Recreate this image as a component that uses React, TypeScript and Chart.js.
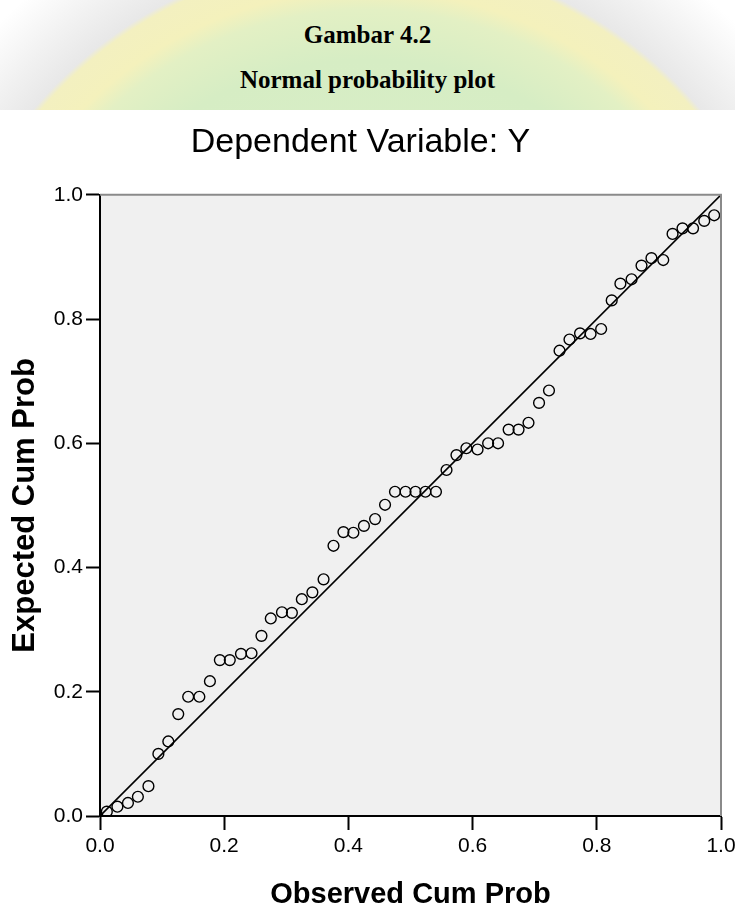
import React, { useEffect, useRef } from "react";
import { Chart, registerables } from "chart.js";

Chart.register(...registerables);

// Observed cumulative probability (x) and expected cumulative probability (y)
const observedCumProb = [
  0.011, 0.028, 0.045, 0.061, 0.078, 0.094, 0.11, 0.126, 0.142, 0.16,
  0.177, 0.193, 0.209, 0.227, 0.244, 0.26, 0.275, 0.293, 0.309, 0.325,
  0.342, 0.36, 0.376, 0.392, 0.408, 0.425, 0.443, 0.459,
  0.475, 0.492, 0.508, 0.524, 0.541,
  0.558, 0.574, 0.59, 0.608, 0.625, 0.641, 0.658, 0.674, 0.69, 0.707,
  0.723, 0.74, 0.756, 0.773, 0.79, 0.807, 0.824, 0.838, 0.856, 0.872,
  0.888, 0.907, 0.922, 0.938, 0.955, 0.973, 0.989,
];
const expectedCumProb = [
  0.007, 0.015, 0.021, 0.031, 0.048, 0.1, 0.12, 0.164, 0.192, 0.192,
  0.217, 0.251, 0.251, 0.261, 0.262, 0.29, 0.318, 0.328, 0.327, 0.349,
  0.36, 0.381, 0.435, 0.457, 0.456, 0.467, 0.478, 0.501,
  0.522, 0.522, 0.522, 0.522, 0.522,
  0.557, 0.581, 0.592, 0.59, 0.6, 0.6, 0.622, 0.622, 0.633, 0.665,
  0.685, 0.749, 0.767, 0.777, 0.776, 0.784, 0.83, 0.857, 0.864, 0.886,
  0.898, 0.895, 0.937, 0.946, 0.946, 0.958, 0.967,
];
const referenceLineX = [0, 1];
const referenceLineY = [0, 1];
const tickValues = [0, 0.2, 0.4, 0.6, 0.8, 1.0];

const headerLines = ["Gambar 4.2", "Normal probability plot"];
const chartTitle = "Dependent Variable: Y";
const xAxisTitle = "Observed Cum Prob";
const yAxisTitle = "Expected Cum Prob";

const SANS = "'Liberation Sans', Arial, sans-serif";

const plotFrame = {
  id: "plotFrame",
  beforeDraw(chart: any) {
    const { ctx, chartArea } = chart;
    ctx.save();
    ctx.fillStyle = "#f0f0f0";
    ctx.fillRect(chartArea.left, chartArea.top, chartArea.right - chartArea.left, chartArea.bottom - chartArea.top);
    ctx.restore();
  },
  afterDraw(chart: any) {
    const { ctx, chartArea } = chart;
    ctx.save();
    ctx.strokeStyle = "#8a8a8a";
    ctx.lineWidth = 2;
    ctx.beginPath();
    ctx.moveTo(chartArea.left, chartArea.top);
    ctx.lineTo(chartArea.right, chartArea.top);
    ctx.lineTo(chartArea.right, chartArea.bottom);
    ctx.stroke();
    ctx.restore();
  },
};

export default function App() {
  const canvasRef = useRef<HTMLCanvasElement | null>(null);

  useEffect(() => {
    if (!canvasRef.current) return;
    const points = observedCumProb.map((x, i) => ({ x, y: expectedCumProb[i] }));
    const line = referenceLineX.map((x, i) => ({ x, y: referenceLineY[i] }));

    const axisCommon = (title: string, titleSize: number, titlePadding: any, tickPadding: number) => ({
      type: "linear" as const,
      min: 0,
      max: 1,
      afterBuildTicks: (s: any) => {
        s.ticks = tickValues.map((v) => ({ value: v }));
      },
      ticks: {
        callback: (v: any) => Number(v).toFixed(1),
        color: "#000",
        padding: tickPadding,
        font: { family: SANS, size: 21 },
      },
      grid: {
        display: true,
        drawOnChartArea: false,
        drawTicks: true,
        tickLength: 14,
        tickColor: "#000",
        tickWidth: 2,
      },
      border: { display: true, color: "#000", width: 2 },
      title: {
        display: true,
        text: title,
        color: "#000",
        font: { family: SANS, size: titleSize, weight: "bold" as const },
        padding: titlePadding,
      },
    });

    const chart = new Chart(canvasRef.current, {
      data: {
        datasets: [
          {
            type: "line",
            data: line,
            borderColor: "#000",
            borderWidth: 1.6,
            pointRadius: 0,
            fill: false,
            order: 2,
          },
          {
            type: "scatter",
            data: points,
            pointStyle: "circle",
            pointRadius: 5.4,
            pointBorderWidth: 1.4,
            borderColor: "#000",
            backgroundColor: "rgba(0,0,0,0)",
            order: 1,
          },
        ],
      } as any,
      options: {
        responsive: false,
        animation: false,
        devicePixelRatio: 1,
        layout: { padding: { top: 112, right: 14, bottom: 0, left: 0 } },
        plugins: {
          legend: { display: false },
          tooltip: { enabled: false },
          title: {
            display: true,
            text: chartTitle,
            color: "#000",
            font: { family: SANS, size: 34, weight: "normal" as const },
            padding: { top: 10, bottom: 32 },
          },
        },
        scales: {
          x: {
            ...axisCommon(xAxisTitle, 29, { top: 0, bottom: 1 }, 4),
            position: "bottom",
            afterFit: (s: any) => {
              s.height = 97;
              s.paddingLeft = 0;
              s.paddingRight = 0;
            },
          },
          y: {
            ...axisCommon(yAxisTitle, 31, { top: 7, bottom: 0 }, 3),
            position: "left",
            afterFit: (s: any) => {
              s.width = 100;
              s.paddingTop = 0;
              s.paddingBottom = 0;
            },
          },
        } as any,
      },
      plugins: [plotFrame],
    });
    return () => chart.destroy();
  }, []);

  return (
    <div style={{ position: "absolute", left: 0, top: 0, width: 735, height: 913, background: "#fff", overflow: "hidden" }}>
      <div
        style={{
          position: "absolute",
          left: 0,
          top: 0,
          width: 735,
          height: 110,
          background:
            "radial-gradient(circle at 367px 390px, #dcefcc 0px, #d6edc4 330px, #e3f0c4 380px, #f4f1bc 400px, #f3f0c0 430px, #e8e8e8 436px, #f1f1f1 470px, #ffffff 520px)",
        }}
      />
      {headerLines.map((t, i) => (
        <div
          key={t}
          style={{
            position: "absolute",
            left: 0,
            width: 735,
            top: i === 0 ? 19 : 64,
            textAlign: "center",
            fontFamily: "'Liberation Serif', 'Times New Roman', serif",
            fontWeight: "bold",
            fontSize: 25,
            lineHeight: "32px",
            color: "#000",
          }}
        >
          {t}
        </div>
      ))}
      <canvas ref={canvasRef} width={735} height={913} style={{ position: "absolute", left: 0, top: 0, width: 735, height: 913 }} />
    </div>
  );
}
